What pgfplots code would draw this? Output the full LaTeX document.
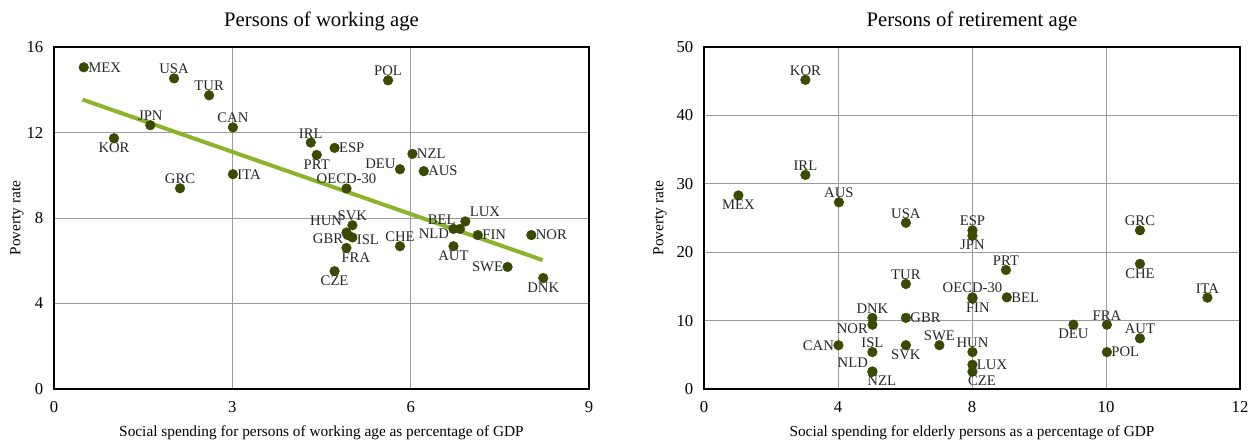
\documentclass[border=0pt]{standalone}
\usepackage{fontspec}
\setmainfont{Liberation Serif}
\usepackage{pgfplots}
\pgfplotsset{compat=1.18}
\definecolor{dotc}{RGB}{58,74,0}
\definecolor{trendc}{RGB}{141,178,43}
\definecolor{gridc}{RGB}{155,155,155}

\pgfplotsset{
  mystyle/.style={
    scale only axis,
    width=401.25pt, height=256.5pt,
    axis line style={line width=1.4pt, black},
    grid=major,
    major grid style={gridc, line width=0.7pt},
    major tick length=0pt,
    tick style={draw=none},
    /pgf/number format/assume math mode=true,
    ticklabel style={font=\fontsize{12.5}{14}\selectfont},
    xticklabel style={yshift=-6pt},
    yticklabel style={xshift=-4.5pt},
    label style={font=\fontsize{11.5}{13}\selectfont},
    title style={font=\fontsize{15.5}{18}\selectfont, anchor=center},
    xlabel style={anchor=center},
    clip=false,
  },
  lab/.style={
    only marks, mark=*, mark size=3.6pt,
    mark options={fill=dotc, draw=dotc},
    nodes near coords, point meta=explicit symbolic,
    every node near coord/.append style={anchor=#1, inner sep=3.2pt,
      font=\fontsize{11}{12}\selectfont, text=black!85},
  },
}

\begin{document}
\begin{tikzpicture}
\useasboundingbox (-40.5pt,-39pt) rectangle (900.75pt,291.75pt);
\begin{axis}[mystyle,
  at={(0pt,0pt)}, anchor=south west,
  xmin=0, xmax=9, ymin=0, ymax=16,
  xtick={0,3,6,9}, ytick={0,4,8,12,16},
  title={Persons of working age},
  title style={at={(axis description cs:0.5,1.05)}},
  xlabel={Social spending for persons of working age as percentage of GDP},
  xlabel style={at={(axis description cs:0.5,-0.128)}},
  ylabel={Poverty rate},
  ylabel style={at={(axis description cs:-0.0692,0.5)}, anchor=center},
]
\addplot[trendc, line width=3pt, no marks] coordinates {(0.48,13.54) (8.22,6.03)};
% labels to the right
\addplot[lab=180] table[meta=label] {
x y label
0.50 15.05 MEX
3.01 10.05 ITA
4.72 11.28 ESP
6.03 11.00 NZL
6.22 10.19 AUS
7.13 7.20 FIN
8.03 7.20 NOR
};
% labels above
\addplot[lab=270] table[meta=label] {
x y label
2.02 14.53 USA
2.61 13.74 TUR
1.62 12.34 JPN
3.01 12.24 CAN
2.12 9.39 GRC
4.32 11.53 IRL
4.92 9.38 OECD-30
5.02 7.66 SVK
5.82 6.68 CHE
5.62 14.44 POL
};
% labels below
\addplot[lab=90] table[meta=label] {
x y label
1.01 11.73 KOR
4.42 10.95 PRT
4.72 5.51 CZE
6.72 6.68 AUT
8.23 5.19 DNK
};
\addplot[lab=345] table[meta=label] {
x y label
5.82 10.28 DEU
};
\addplot[lab=south east, every node near coord/.append style={yshift=1.5pt}] table[meta=label] {
x y label
4.92 7.32 HUN
};
\addplot[lab=south east] table[meta=label] {
x y label
6.83 7.49 BEL
};
\addplot[lab=10] table[meta=label] {
x y label
4.94 7.20 GBR
};
\addplot[lab=0] table[meta=label] {
x y label
7.63 5.71 SWE
};
\addplot[lab=170] table[meta=label] {
x y label
5.02 7.09 ISL
};
\addplot[lab=135] table[meta=label] {
x y label
4.92 6.60 FRA
};
\addplot[lab=15] table[meta=label] {
x y label
6.72 7.49 NLD
};
\addplot[lab=south west] table[meta=label] {
x y label
6.92 7.84 LUX
};
\end{axis}
\begin{axis}[mystyle,
  at={(487.5pt,0pt)}, anchor=south west,
  width=402pt,
  xmin=0, xmax=12, ymin=0, ymax=50,
  xtick={0,3,6,9,12}, xticklabels={0,4,8,10,12},
  ytick={0,10,20,30,40,50},
  title={Persons of retirement age},
  title style={at={(axis description cs:0.5,1.05)}},
  xlabel={Social spending for elderly persons as a percentage of GDP},
  xlabel style={at={(axis description cs:0.5,-0.128)}},
  ylabel={Poverty rate},
  ylabel style={at={(axis description cs:-0.0821,0.5)}, anchor=center},
]
\addplot[lab=270] table[meta=label] {
x y label
2.27 45.2 KOR
2.27 31.3 IRL
3.02 27.3 AUS
4.52 24.3 USA
6.01 23.2 ESP
6.76 17.4 PRT
4.52 15.35 TUR
6.01 13.4 OECD-30
9.76 23.2 GRC
11.27 13.35 ITA
3.77 10.4 DNK
9.02 9.4 FRA
9.76 7.4 AUT
5.27 6.4 SWE
3.77 5.4 ISL
6.01 5.4 HUN
};
\addplot[lab=90] table[meta=label] {
x y label
0.77 28.3 MEX
6.01 22.4 JPN
9.76 18.3 CHE
8.27 9.4 DEU
4.52 6.4 SVK
};
\addplot[lab=120] table[meta=label] {
x y label
6.01 13.2 FIN
};
\addplot[lab=180] table[meta=label] {
x y label
6.78 13.4 BEL
4.52 10.4 GBR
9.02 5.4 POL
6.01 3.55 LUX
};
\addplot[lab=10] table[meta=label] {
x y label
3.77 9.4 NOR
};
\addplot[lab=0] table[meta=label] {
x y label
3.01 6.4 CAN
};
\addplot[lab=135] table[meta=label] {
x y label
6.01 2.53 CZE
3.77 2.53 NZL
};
\addplot[lab=335] table[meta=label] {
x y label
3.77 2.55 NLD
};
\end{axis}
\end{tikzpicture}
\end{document}
